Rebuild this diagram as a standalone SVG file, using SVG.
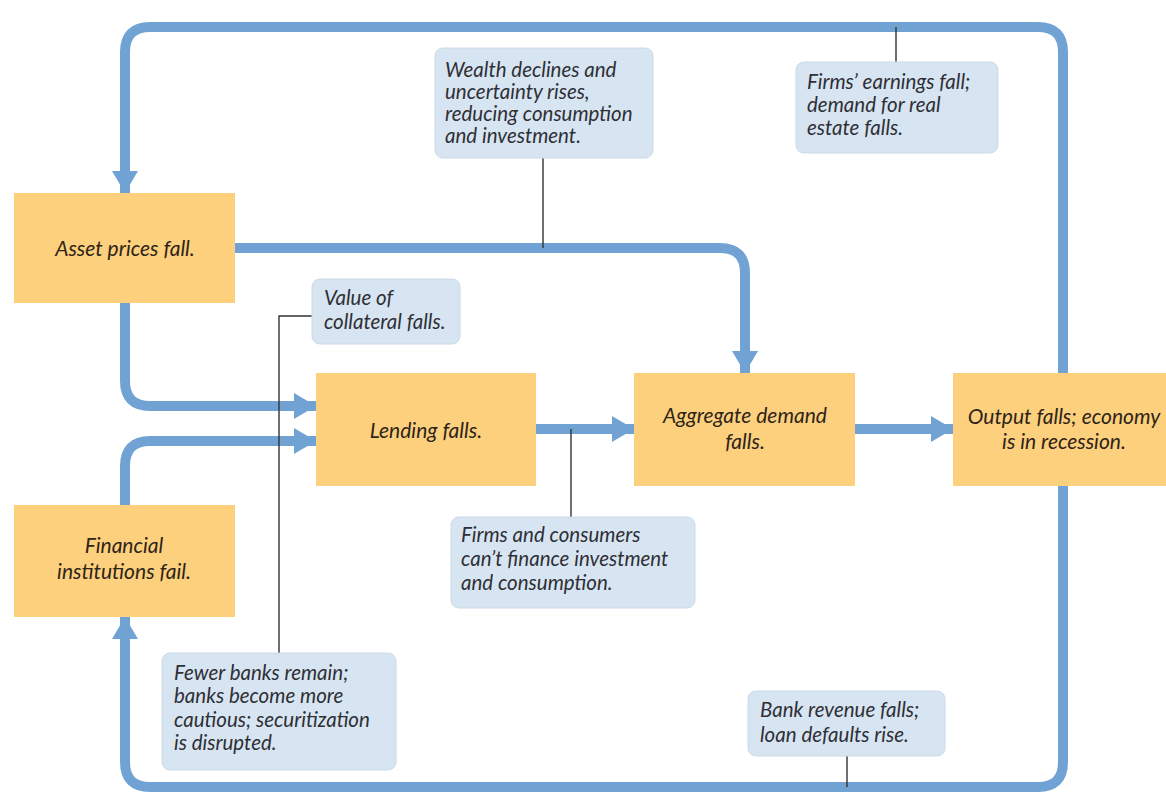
<svg xmlns="http://www.w3.org/2000/svg" width="1166" height="793" viewBox="0 0 1166 793">
<defs>
<style>
.box{fill:#FDD07E}
.call{fill:#D7E5F2;stroke:#CCDAE8;stroke-width:1}
.bt{font-family:Lato,"Open Sans","Liberation Sans",sans-serif;font-style:italic;font-size:21px;fill:#2E2418;text-anchor:middle}
.ct{font-family:Lato,"Open Sans","Liberation Sans",sans-serif;font-style:italic;font-size:20.5px;fill:#2F2F35}
.flow{fill:none;stroke:#70A3D4;stroke-width:10;marker-end:url(#ah)}
.thin{fill:none;stroke:#333;stroke-width:1.4}
</style>
<marker id="ah" markerUnits="userSpaceOnUse" markerWidth="22" markerHeight="26" refX="22" refY="13" orient="auto">
<path d="M0,0 L22,13 L0,26 z" fill="#70A3D4"/>
</marker>
</defs>
<rect width="1166" height="793" fill="#FFFFFF"/>
<g id="connectors">
<path class="flow" d="M1063,373 V52 Q1063,27 1038,27 H150 Q125,27 125,52 V193"/>
<path class="flow" d="M235,248 H720 Q745,248 745,273 V373"/>
<path class="flow" d="M125,303 V381 Q125,406 150,406 H316"/>
<path class="flow" d="M125,505 V466 Q125,441 150,441 H316"/>
<path class="flow" d="M1063,486 V762 Q1063,787 1038,787 H150 Q125,787 125,762 V617"/>
<path class="flow" d="M536,429 H634"/>
<path class="flow" d="M855,429 H953"/>
<path class="thin" d="M543,158 V248"/>
<path class="thin" d="M896,27 V62"/>
<path class="thin" d="M312,316 H279 V653"/>
<path class="thin" d="M571,429 V517"/>
<path class="thin" d="M847,756 V787"/>
</g>
<g id="asset">
<rect class="box" x="14" y="193" width="221" height="110"/>
<text class="bt" x="125" y="256">Asset prices fall.</text>
</g>
<g id="lending">
<rect class="box" x="316" y="373" width="220" height="113"/>
<text class="bt" x="426" y="438">Lending falls.</text>
</g>
<g id="financial">
<rect class="box" x="14" y="505" width="221" height="112"/>
<text class="bt" x="124" y="553">Financial</text>
<text class="bt" x="124" y="579">institutions fail.</text>
</g>
<g id="aggregate">
<rect class="box" x="634" y="373" width="221" height="113"/>
<text class="bt" x="745" y="423">Aggregate demand</text>
<text class="bt" x="745" y="449">falls.</text>
</g>
<g id="output">
<rect class="box" x="953" y="373" width="230" height="113"/>
<text class="bt" x="1064" y="424">Output falls; economy</text>
<text class="bt" x="1064" y="449">is in recession.</text>
</g>
<g id="wealth">
<rect class="call" x="435" y="48" width="218" height="110" rx="8"/>
<text class="ct" x="445" y="77">Wealth declines and</text>
<text class="ct" x="445" y="99">uncertainty rises,</text>
<text class="ct" x="445" y="121">reducing consumption</text>
<text class="ct" x="445" y="143">and investment.</text>
</g>
<g id="earnings">
<rect class="call" x="796" y="62" width="202" height="91" rx="8"/>
<text class="ct" x="807" y="89">Firms’ earnings fall;</text>
<text class="ct" x="807" y="112">demand for real</text>
<text class="ct" x="807" y="135">estate falls.</text>
</g>
<g id="collateral">
<rect class="call" x="312" y="279" width="148" height="65" rx="8"/>
<text class="ct" x="324" y="305">Value of</text>
<text class="ct" x="324" y="329">collateral falls.</text>
</g>
<g id="finance">
<rect class="call" x="451" y="517" width="244" height="91" rx="8"/>
<text class="ct" x="461" y="542">Firms and consumers</text>
<text class="ct" x="461" y="566">can’t finance investment</text>
<text class="ct" x="461" y="590">and consumption.</text>
</g>
<g id="fewer">
<rect class="call" x="162" y="653" width="234" height="117" rx="8"/>
<text class="ct" x="174" y="680">Fewer banks remain;</text>
<text class="ct" x="174" y="703">banks become more</text>
<text class="ct" x="174" y="727">cautious; securitization</text>
<text class="ct" x="174" y="750">is disrupted.</text>
</g>
<g id="revenue">
<rect class="call" x="748" y="691" width="197" height="65" rx="8"/>
<text class="ct" x="760" y="717">Bank revenue falls;</text>
<text class="ct" x="760" y="742">loan defaults rise.</text>
</g>
</svg>
